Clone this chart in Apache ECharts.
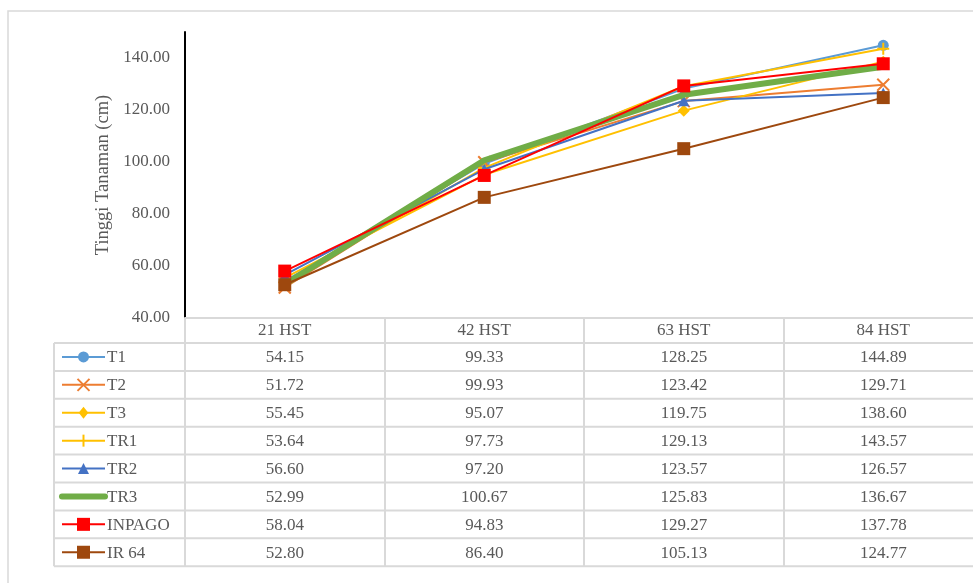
<!DOCTYPE html>
<html>
<head>
<meta charset="utf-8">
<script src="https://cdn.jsdelivr.net/npm/echarts@6/dist/echarts.min.js"></script>
<style>
html,body{margin:0;padding:0;background:#fff;overflow:hidden;width:973px;height:583px;}
#chart{width:1000px;height:583px;}
</style>
</head>
<body>
<div id="chart"></div>
<script>
// ---- data ----
const categories = ['21 HST', '42 HST', '63 HST', '84 HST'];
const seriesNames = ['T1', 'T2', 'T3', 'TR1', 'TR2', 'TR3', 'INPAGO', 'IR 64'];
const T1 = [54.15, 99.33, 128.25, 144.89];
const T2 = [51.72, 99.93, 123.42, 129.71];
const T3 = [55.45, 95.07, 119.75, 138.60];
const TR1 = [53.64, 97.73, 129.13, 143.57];
const TR2 = [56.60, 97.20, 123.57, 126.57];
const TR3 = [52.99, 100.67, 125.83, 136.67];
const INPAGO = [58.04, 94.83, 129.27, 137.78];
const IR64 = [52.80, 86.40, 105.13, 124.77];
const seriesValues = [T1, T2, T3, TR1, TR2, TR3, INPAGO, IR64];
const yAxisTitle = 'Tinggi Tanaman (cm)';
const yMin = 40, yMax = 150, yInterval = 20;

// ---- styles ----
const FONT = '"Liberation Serif", "Times New Roman", serif';
const FS = 17;
const TXT = '#595959';
const GRIDC = '#d9d9d9';
const styles = [
  {color: '#5B9BD5', symbol: 'circle', size: 11, width: 2},
  {color: '#ED7D31', symbol: 'path://M0,0L10,10M10,0L0,10', size: 12, width: 2, stroke: true},
  {color: '#FFC000', symbol: 'diamond', size: 12, width: 2},
  {color: '#FFC000', symbol: 'path://M5,0L5,10M0,5L10,5', size: 12, width: 2, stroke: true},
  {color: '#4472C4', symbol: 'triangle', size: 11, width: 2},
  {color: '#70AD47', symbol: 'none', size: 0, width: 6},
  {color: '#FF0000', symbol: 'rect', size: 13, width: 2},
  {color: '#9E480E', symbol: 'rect', size: 13, width: 2}
];

const chart = echarts.init(document.getElementById('chart'), null, {renderer: 'canvas'});

const GRID_LEFT = 185, GRID_TOP = 32, GRID_H = 286, COL_W = 199.5;
const HEADER_H = 25, ROW_H = 27.9;
const TABLE_LEFT = 54;
const tableBottom = GRID_TOP + GRID_H + HEADER_H + seriesNames.length * ROW_H;

const option = {
  animation: false,
  backgroundColor: '#fff',
  grid: {left: GRID_LEFT, top: GRID_TOP, width: COL_W * categories.length, height: GRID_H, containLabel: false},
  xAxis: {
    type: 'category',
    data: categories,
    boundaryGap: true,
    axisLine: {show: true, lineStyle: {color: GRIDC, width: 2}},
    axisTick: {show: true, alignWithLabel: false, inside: false, length: tableBottom - (GRID_TOP + GRID_H), lineStyle: {color: GRIDC, width: 2}},
    axisLabel: {show: true, margin: 4, color: TXT, fontFamily: FONT, fontSize: FS},
    splitLine: {show: false}
  },
  yAxis: {
    type: 'value',
    min: yMin, max: yMax, interval: yInterval,
    name: yAxisTitle,
    nameLocation: 'middle',
    nameRotate: 90,
    nameGap: 71,
    nameTextStyle: {color: TXT, fontFamily: FONT, fontSize: 18.5},
    axisLine: {show: true, lineStyle: {color: '#000', width: 2}},
    axisTick: {show: false},
    axisLabel: {color: TXT, fontFamily: FONT, fontSize: FS, margin: 15, showMaxLabel: false,
      formatter: v => v.toFixed(2)},
    splitLine: {show: false}
  },
  series: seriesNames.map((n, i) => {
    const s = styles[i];
    return {
      name: n, type: 'line', data: seriesValues[i],
      symbol: s.symbol, symbolSize: s.size, showSymbol: s.symbol !== 'none',
      lineStyle: {color: s.color, width: s.width},
      itemStyle: s.stroke ? {color: s.color, borderColor: s.color, borderWidth: 2} : {color: s.color},
      z: 2 + i,
      emphasis: {disabled: true}
    };
  })
};
chart.setOption(option);

// ---- data table (drawn with graphic elements, positions from the axis) ----
const gfx = [];
const xAxisY = GRID_TOP + GRID_H;
const rightEdge = GRID_LEFT + COL_W * categories.length;
// outer chart border
gfx.push({type: 'rect', shape: {x: 8, y: 11, width: 1100, height: 700}, style: {fill: 'none', stroke: GRIDC, lineWidth: 1.5}, silent: true, z: 0});
// horizontal row lines
for (let r = 0; r <= seriesNames.length; r++) {
  const y = xAxisY + HEADER_H + r * ROW_H;
  gfx.push({type: 'line', shape: {x1: TABLE_LEFT, y1: y, x2: rightEdge, y2: y}, style: {stroke: GRIDC, lineWidth: 2}, silent: true, z: 1});
}
// left table border
gfx.push({type: 'line', shape: {x1: TABLE_LEFT, y1: xAxisY + HEADER_H, x2: TABLE_LEFT, y2: tableBottom}, style: {stroke: GRIDC, lineWidth: 2}, silent: true, z: 1});

seriesNames.forEach((n, i) => {
  const cy = xAxisY + HEADER_H + (i + 0.5) * ROW_H;
  const s = styles[i];
  // legend key
  const lx1 = 62, lx2 = 105, mx = 83.5;
  gfx.push({type: 'line', shape: {x1: lx1, y1: cy, x2: lx2, y2: cy}, style: {stroke: s.color, lineWidth: s.width === 6 ? 6 : 2, lineCap: s.width === 6 ? 'round' : 'butt'}, silent: true, z: 5});
  const h = s.size / 2;
  if (s.symbol === 'circle') {
    gfx.push({type: 'circle', shape: {cx: mx, cy: cy, r: h}, style: {fill: s.color}, silent: true, z: 6});
  } else if (s.symbol === 'rect') {
    gfx.push({type: 'rect', shape: {x: mx - h, y: cy - h, width: s.size, height: s.size}, style: {fill: s.color}, silent: true, z: 6});
  } else if (s.symbol === 'diamond') {
    gfx.push({type: 'polygon', shape: {points: [[mx, cy - h], [mx + h * 0.8, cy], [mx, cy + h], [mx - h * 0.8, cy]]}, style: {fill: s.color}, silent: true, z: 6});
  } else if (s.symbol === 'triangle') {
    gfx.push({type: 'polygon', shape: {points: [[mx, cy - h], [mx + h, cy + h], [mx - h, cy + h]]}, style: {fill: s.color}, silent: true, z: 6});
  } else if (s.symbol.indexOf('M0,0') >= 0) {
    gfx.push({type: 'polyline', shape: {points: [[mx - h, cy - h], [mx + h, cy + h]]}, style: {stroke: s.color, lineWidth: 2}, silent: true, z: 6});
    gfx.push({type: 'polyline', shape: {points: [[mx + h, cy - h], [mx - h, cy + h]]}, style: {stroke: s.color, lineWidth: 2}, silent: true, z: 6});
  } else if (s.symbol.indexOf('M5,0') >= 0) {
    gfx.push({type: 'polyline', shape: {points: [[mx, cy - h], [mx, cy + h]]}, style: {stroke: s.color, lineWidth: 2}, silent: true, z: 6});
  }
  gfx.push({type: 'text', style: {text: n, x: 107, y: cy + 1, fill: TXT, font: FS + 'px ' + FONT, align: 'left', verticalAlign: 'middle'}, silent: true, z: 6});
  // values
  seriesValues[i].forEach((v, j) => {
    const px = chart.convertToPixel({xAxisIndex: 0}, categories[j]);
    gfx.push({type: 'text', style: {text: v.toFixed(2), x: px, y: cy + 1, fill: TXT, font: FS + 'px ' + FONT, align: 'center', verticalAlign: 'middle'}, silent: true, z: 6});
  });
});
chart.setOption({graphic: {elements: gfx}});
</script>
</body>
</html>
